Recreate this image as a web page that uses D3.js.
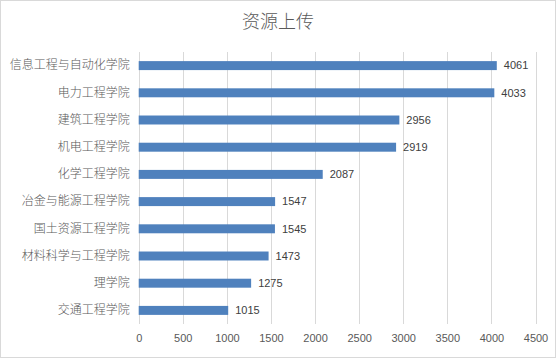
<!DOCTYPE html>
<html><head><meta charset="utf-8">
<script src="https://cdn.jsdelivr.net/npm/d3@7"></script>
<style>body{margin:0;background:#fff}svg{display:block}</style>
</head><body>
<svg id="c" width="556" height="358"></svg>
<script>
const categories = ["信息工程与自动化学院","电力工程学院","建筑工程学院","机电工程学院","化学工程学院","冶金与能源工程学院","国土资源工程学院","材料科学与工程学院","理学院","交通工程学院"];
const values = [4061,4033,2956,2919,2087,1547,1545,1473,1275,1015];
const ticks = [0,500,1000,1500,2000,2500,3000,3500,4000,4500];
const title = "资源上传";

const svg = d3.select("#c");
const W=556,H=358;
svg.append("rect").attr("x",0.5).attr("y",0.5).attr("width",W-1).attr("height",H-1).attr("fill","#fff").attr("stroke","#d9d9d9");
const font = "'Noto Sans CJK SC','Noto Sans',sans-serif";
svg.append("text").attr("x",278).attr("y",28).attr("text-anchor","middle").attr("font-family",font).attr("font-weight",300).attr("font-size",18).attr("fill","#595959").text(title);

const x = d3.scaleLinear().domain([0,4500]).range([138.7,535.5]);
const y = d3.scaleBand().domain(categories).range([52,324]).paddingInner(0.67).paddingOuter(0.335);

const g = svg.append("g");
g.selectAll("line.grid").data(ticks).join("line").attr("class","grid")
 .attr("x1",d=>Math.round(x(d))+0.5).attr("x2",d=>Math.round(x(d))+0.5)
 .attr("y1",52).attr("y2",324).attr("stroke","#d9d9d9").attr("stroke-width",1);

g.selectAll("rect.bar").data(values).join("rect").attr("class","bar")
 .attr("x",x(0)).attr("y",(d,i)=>y(categories[i])).attr("width",d=>x(d)-x(0)).attr("height",y.bandwidth())
 .attr("fill","#4f81bd");

g.selectAll("text.val").data(values).join("text").attr("class","val")
 .attr("x",d=>x(d)+7).attr("y",(d,i)=>y(categories[i])+y.bandwidth()/2).attr("dy","0.35em")
 .attr("font-family","'Liberation Sans','Noto Sans',sans-serif").attr("font-size",11).attr("fill","#404040").text(d=>d);

const yAxis = d3.axisLeft(y).tickSize(0).tickPadding(9);
const ya = svg.append("g").attr("transform",`translate(${x(0)},0)`).call(yAxis);
ya.select(".domain").remove();
ya.selectAll("text").attr("font-family",font).attr("font-weight",300).attr("font-size",12).attr("fill","#595959");

const xAxis = d3.axisBottom(x).tickValues(ticks).tickFormat(d3.format("d")).tickSize(0).tickPadding(0);
const xa = svg.append("g").attr("transform",`translate(0,334)`).call(xAxis);
xa.select(".domain").remove();
xa.selectAll("text").attr("font-family","'Liberation Sans','Noto Sans',sans-serif").attr("font-size",11).attr("fill","#595959").attr("dy","0.71em");
</script>
</body></html>
